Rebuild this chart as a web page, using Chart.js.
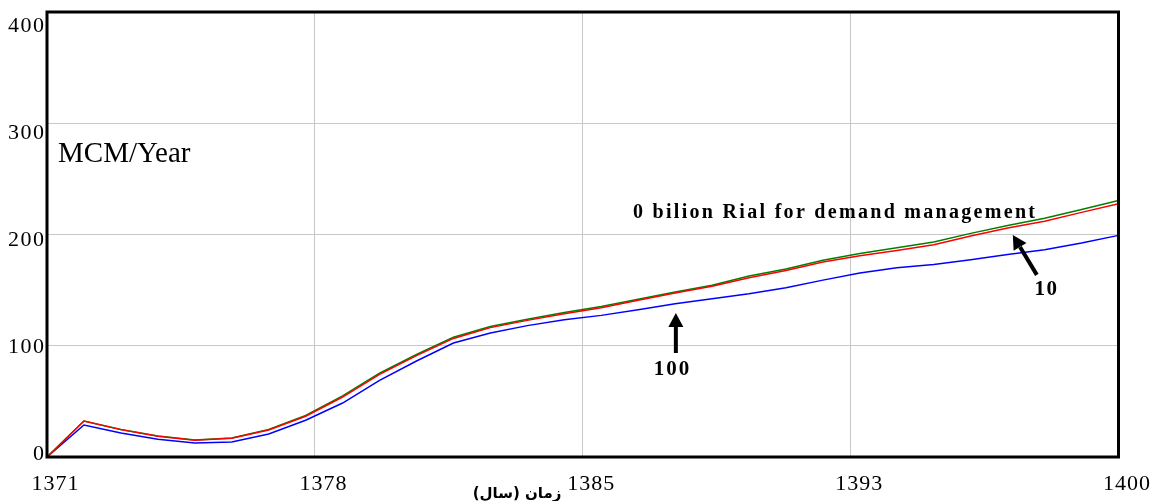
<!DOCTYPE html>
<html>
<head>
<meta charset="utf-8">
<script src="https://cdn.jsdelivr.net/npm/chart.js@4.4.0/dist/chart.umd.min.js"></script>
<style>
    html, body { margin: 0; padding: 0; background: #fff; }
    #wrap { width: 1150px; height: 501px; }
</style>
</head>
<body>
<div id="wrap"><canvas id="demand-chart" width="1150" height="501"></canvas></div>
<script>
// years of the simulation (Persian calendar)
const years = [1371, 1372, 1373, 1374, 1375, 1376, 1377, 1378, 1379, 1380,
               1381, 1382, 1383, 1384, 1385, 1386, 1387, 1388, 1389, 1390,
               1391, 1392, 1393, 1394, 1395, 1396, 1397, 1398, 1399, 1400];

// MCM/Year for each budget of demand management (billion Rial)
const budget0 = [0, 32.3, 24.8, 18.9, 15.3, 17.1, 24.8, 37.4, 54.9, 75.3,
                 92.1, 107.6, 117.3, 123.8, 129.8, 135.2, 141.8, 148.4, 154.4, 162.6,
                 169.0, 176.8, 183.0, 188.1, 193.2, 201.0, 208.0, 214.7, 222.5, 230.6];
const budget10 = [0, 32.3, 24.6, 18.6, 15.0, 16.8, 24.3, 36.6, 53.9, 74.3,
                  91.1, 106.6, 116.3, 122.8, 128.8, 134.2, 140.8, 147.4, 153.4, 161.2,
                  167.7, 175.2, 181.0, 185.7, 190.8, 198.6, 205.8, 212.0, 219.9, 227.6];
const budget100 = [0, 28.8, 21.6, 15.9, 12.6, 13.5, 20.7, 33.0, 48.5, 68.9,
                   86.3, 102.4, 111.4, 118.1, 123.4, 127.3, 132.4, 137.8, 142.3, 146.8,
                   152.2, 159.0, 165.3, 170.2, 173.1, 177.3, 182.1, 186.3, 192.3, 199.2];

// axis ticks (grid sits at quarters of the time span)
const xTicks = [1371, 1378.25, 1385.5, 1392.75, 1400];
const xTickLabels = ["1371", "1378", "1385", "1393", "1400"];
const yTicks = [0, 100, 200, 300, 400];

const unitLabel = "MCM/Year";
const xTitle = "زمان (سال)";
const note0 = "0 bilion Rial for demand management";
const note10 = "10";
const note100 = "100";

const serif = '"Liberation Serif", "Times New Roman", serif';

function toPoints(values) {
    return years.map((y, i) => ({ x: y, y: values[i] }));
}

function spacedText(ctx, text, x, y, spacing) {
    ctx.letterSpacing = spacing + "px";
    ctx.fillText(text, x, y);
    ctx.letterSpacing = "0px";
}

function drawArrow(ctx, x1, y1, x2, y2) {
    const ang = Math.atan2(y2 - y1, x2 - x1);
    const headLen = 14, headHalf = 7.5;
    const bx = x2 - headLen * Math.cos(ang), by = y2 - headLen * Math.sin(ang);
    ctx.strokeStyle = "#000";
    ctx.lineWidth = 4;
    ctx.beginPath();
    ctx.moveTo(x1, y1);
    ctx.lineTo(bx, by);
    ctx.stroke();
    ctx.fillStyle = "#000";
    ctx.beginPath();
    ctx.moveTo(x2, y2);
    ctx.lineTo(bx + headHalf * Math.sin(ang), by - headHalf * Math.cos(ang));
    ctx.lineTo(bx - headHalf * Math.sin(ang), by + headHalf * Math.cos(ang));
    ctx.closePath();
    ctx.fill();
}

const decorPlugin = {
    id: "decor",
    afterDraw(chart) {
        const { ctx, chartArea: a, scales: { x, y } } = chart;
        ctx.save();

        // frame
        ctx.strokeStyle = "#000";
        ctx.lineWidth = 3;
        ctx.strokeRect(a.left, a.top, a.right - a.left, a.bottom - a.top);

        // tick labels
        ctx.fillStyle = "#000";
        ctx.font = "22px " + serif;
        ctx.textBaseline = "alphabetic";
        ctx.textAlign = "center";
        xTicks.forEach((v, i) => {
            spacedText(ctx, xTickLabels[i], x.getPixelForValue(v) + 8.5, 490, 1);
        });
        ctx.textAlign = "right";
        yTicks.forEach(v => {
            spacedText(ctx, String(v), a.left - 1.5, y.getPixelForValue(v) + 3 + 4.15 * v / 100, 1.5);
        });

        // x title
        ctx.font = "bold 15px \"DejaVu Sans\", sans-serif";
        ctx.textAlign = "center";
        ctx.direction = "rtl";
        ctx.fillText(xTitle, 517, 498);
        ctx.direction = "ltr";

        // unit
        ctx.textAlign = "left";
        ctx.font = "29px " + serif;
        ctx.fillText(unitLabel, x.getPixelForValue(1371.3), y.getPixelForValue(265.5));

        // notes
        ctx.font = "bold 20px " + serif;
        const w = ctx.measureText(note0).width;
        const sp = Math.max(0, (402 - w) / (note0.length - 1));
        spacedText(ctx, note0, x.getPixelForValue(1386.86), y.getPixelForValue(215), sp);

        ctx.font = "bold 21px " + serif;
        ctx.textAlign = "center";
        spacedText(ctx, note100, x.getPixelForValue(1387.93), y.getPixelForValue(73.5), 2);
        spacedText(ctx, note10, x.getPixelForValue(1398.05), y.getPixelForValue(145.5), 1.5);

        drawArrow(ctx, x.getPixelForValue(1388.02), y.getPixelForValue(93.5),
                       x.getPixelForValue(1388.02), y.getPixelForValue(129.5));
        drawArrow(ctx, x.getPixelForValue(1397.79), y.getPixelForValue(163.7),
                       x.getPixelForValue(1397.14), y.getPixelForValue(199.6));

        ctx.restore();
    },
};

const gridStyle = { color: "#c8c8c8", lineWidth: 1, drawTicks: false };

new Chart(document.getElementById("demand-chart"), {
    type: "line",
    data: {
        datasets: [
            { label: "10", data: toPoints(budget10), borderColor: "#ff0000" },
            { label: "0", data: toPoints(budget0), borderColor: "#008000" },
            { label: "100", data: toPoints(budget100), borderColor: "#0000ff" },
        ],
    },
    options: {
        responsive: false,
        animation: false,
        devicePixelRatio: 1,
        datasets: {
            line: { borderWidth: 1.5, pointRadius: 0, tension: 0, fill: false },
        },
        layout: { padding: { top: 12, right: 31.5, left: 0, bottom: 0 } },
        plugins: {
            legend: { display: false },
            tooltip: { enabled: false },
        },
        scales: {
            x: {
                type: "linear",
                min: 1371,
                max: 1400,
                afterBuildTicks: s => { s.ticks = xTicks.map(v => ({ value: v })); },
                afterFit: s => { s.height = 44; },
                grid: gridStyle,
                border: { display: false },
                ticks: { display: false },
            },
            y: {
                min: 0,
                max: 400,
                afterBuildTicks: s => { s.ticks = yTicks.map(v => ({ value: v })); },
                afterFit: s => { s.width = 47; },
                grid: gridStyle,
                border: { display: false },
                ticks: { display: false },
            },
        },
    },
    plugins: [decorPlugin],
});
</script>
</body>
</html>
